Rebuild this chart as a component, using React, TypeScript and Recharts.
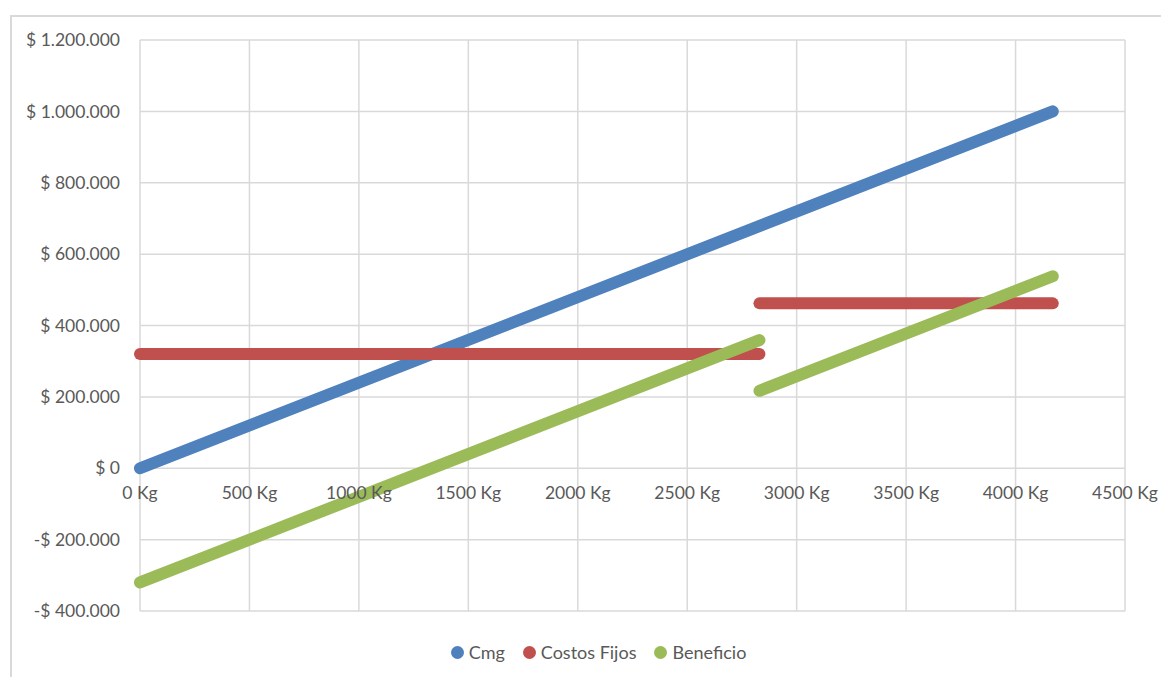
import React from 'react';
import { LineChart, Line, XAxis, YAxis, CartesianGrid, Legend } from 'recharts';

// values
const xTicks = [0, 500, 1000, 1500, 2000, 2500, 3000, 3500, 4000, 4500];
const yTicks = [-400000, -200000, 0, 200000, 400000, 600000, 800000, 1000000, 1200000];

const cmgKg = [0, 4170];
const cmgValues = [0, 1000000];

const fijosKgA = [0, 2830];
const fijosValuesA = [320000, 320000];
const fijosKgB = [2830, 4170];
const fijosValuesB = [462000, 462000];

const beneficioKgA = [0, 2830];
const beneficioValuesA = [-320000, 359000];
const beneficioKgB = [2830, 4170];
const beneficioValuesB = [217000, 538000];

const toPoints = (xs: number[], ys: number[]) => xs.map((x, i) => ({ kg: x, value: ys[i] }));

const BLUE = '#4f81bd';
const RED = '#c0504d';
const GREEN = '#9bbb59';
const TEXT = '#595959';
const FONT = 'Lato, "Open Sans", sans-serif';

const CHART_W = 1150;
const CHART_H = 660;
const MARGIN = { top: 23, right: 37, bottom: 0, left: 18 };
const X_AXIS_H = 30;
const LEGEND_H = 36;
const PLOT_H = CHART_H - MARGIN.top - MARGIN.bottom - X_AXIS_H - LEGEND_H;
// x labels sit under the zero line, not under the plot bottom
const ZERO_SHIFT = (PLOT_H * (0 - yTicks[0])) / (yTicks[yTicks.length - 1] - yTicks[0]);

const money = (v: number) => {
  const s = Math.abs(v).toString().replace(/\B(?=(\d{3})+(?!\d))/g, '.');
  return v < 0 ? `-$ ${s}` : `$ ${s}`;
};

const XTick = (props: any) => {
  const { x, y, payload } = props;
  return (
    <text x={x} y={y - ZERO_SHIFT + 23} textAnchor="middle" fill={TEXT} fontSize={17.5} fontFamily={FONT}>
      {`${payload.value} Kg`}
    </text>
  );
};

const legendItems = [
  { name: 'Cmg', color: BLUE },
  { name: 'Costos Fijos', color: RED },
  { name: 'Beneficio', color: GREEN },
];

const LegendContent = () => (
  <div style={{ display: 'flex', justifyContent: 'center', paddingLeft: 42, fontFamily: FONT, fontSize: 18, color: TEXT }}>
    {legendItems.map((it) => (
      <div key={it.name} style={{ display: 'flex', alignItems: 'center', margin: '0 9px' }}>
        <span style={{ width: 13, height: 13, borderRadius: 7, background: it.color, marginRight: 5, display: 'inline-block' }} />
        {it.name}
      </div>
    ))}
  </div>
);

const lineProps = {
  dataKey: 'value',
  strokeWidth: 12,
  strokeLinecap: 'round' as const,
  dot: false,
  activeDot: false,
  isAnimationActive: false,
};

export default function App() {
  return (
    <div style={{ paddingLeft: 2, paddingTop: 7 }}>
      <div style={{ width: 1158, height: 661, borderTop: '2px solid #d9d9d9', borderLeft: '2px solid #d9d9d9', overflow: 'hidden' }}>
        <LineChart width={CHART_W} height={CHART_H} margin={MARGIN}>
          <CartesianGrid stroke="#d9d9d9" strokeWidth={1.5} />
          <XAxis
            type="number"
            dataKey="kg"
            domain={[0, 4500]}
            ticks={xTicks}
            allowDuplicatedCategory={false}
            height={X_AXIS_H}
            axisLine={false}
            tickLine={false}
            tick={<XTick />}
          />
          <YAxis
            type="number"
            domain={[-400000, 1200000]}
            ticks={yTicks}
            width={110}
            axisLine={false}
            tickLine={false}
            tickSize={0}
            tickMargin={20}
            tickFormatter={money}
            tick={{ fill: TEXT, fontSize: 17.5, fontFamily: FONT }}
          />
          <Legend verticalAlign="bottom" height={LEGEND_H} content={<LegendContent />} />
          <Line {...lineProps} data={toPoints(cmgKg, cmgValues)} name="Cmg" stroke={BLUE} />
          <Line {...lineProps} data={toPoints(fijosKgA, fijosValuesA)} name="Costos Fijos" stroke={RED} />
          <Line {...lineProps} data={toPoints(fijosKgB, fijosValuesB)} name="Costos Fijos 2" stroke={RED} legendType="none" />
          <Line {...lineProps} data={toPoints(beneficioKgA, beneficioValuesA)} name="Beneficio" stroke={GREEN} />
          <Line {...lineProps} data={toPoints(beneficioKgB, beneficioValuesB)} name="Beneficio 2" stroke={GREEN} legendType="none" />
        </LineChart>
      </div>
    </div>
  );
}
